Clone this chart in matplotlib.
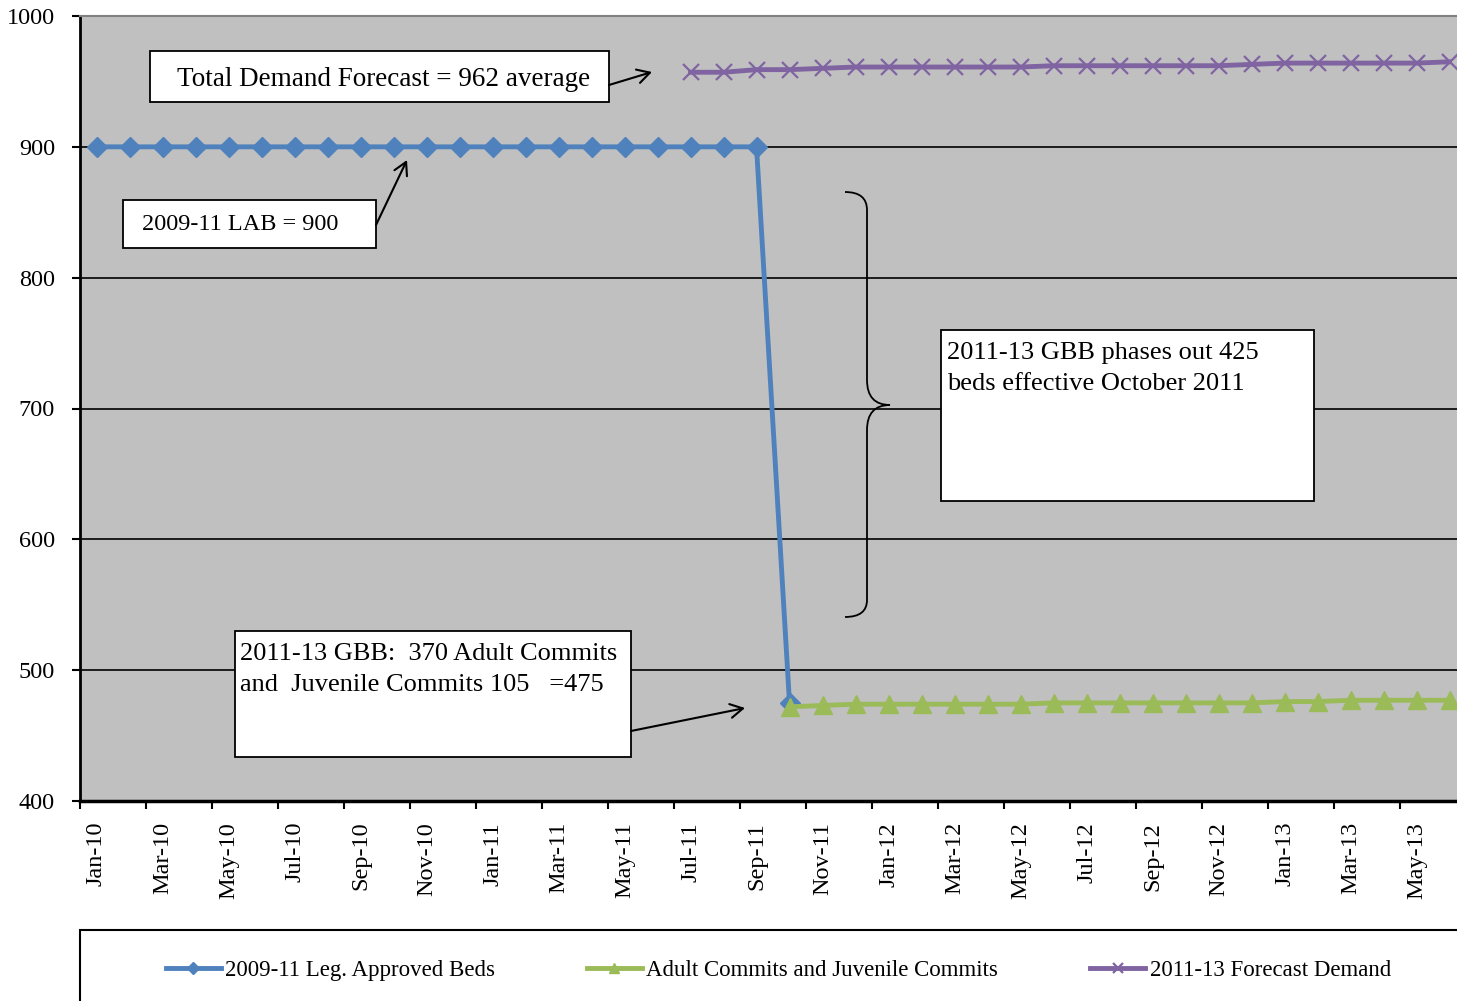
import matplotlib
matplotlib.use("Agg")
import matplotlib.pyplot as plt
from matplotlib.patches import Rectangle, PathPatch, FancyArrowPatch
from matplotlib.path import Path

plt.rcParams['font.family'] = ['Liberation Serif', 'DejaVu Serif']

months = ['Jan-10', 'Feb-10', 'Mar-10', 'Apr-10', 'May-10', 'Jun-10', 'Jul-10', 'Aug-10',
          'Sep-10', 'Oct-10', 'Nov-10', 'Dec-10', 'Jan-11', 'Feb-11', 'Mar-11', 'Apr-11',
          'May-11', 'Jun-11', 'Jul-11', 'Aug-11', 'Sep-11', 'Oct-11', 'Nov-11', 'Dec-11',
          'Jan-12', 'Feb-12', 'Mar-12', 'Apr-12', 'May-12', 'Jun-12', 'Jul-12', 'Aug-12',
          'Sep-12', 'Oct-12', 'Nov-12', 'Dec-12', 'Jan-13', 'Feb-13', 'Mar-13', 'Apr-13',
          'May-13', 'Jun-13']

# 2009-11 Leg. Approved Beds: Jan-10 .. Oct-11
approved = [900] * 21 + [475]
approved_start = 0
# Adult + Juvenile commits: Oct-11 .. Jun-13
commits = [472, 473, 474, 474, 474, 474, 474, 474, 475, 475, 475, 475, 475, 475,
           475, 476, 476, 477, 477, 477, 477]
commits_start = 21
# 2011-13 Forecast demand: Jul-11 .. Jun-13
forecast = [957, 957, 959, 959, 960, 961, 961, 961, 961, 961, 961, 962, 962, 962,
            962, 962, 962, 963, 964, 964, 964, 964, 964, 965]
forecast_start = 18

yticks = [400, 500, 600, 700, 800, 900, 1000]

W, H = 1457, 1001
fig = plt.figure(figsize=(W / 100, H / 100), dpi=100)
fig.patch.set_facecolor('white')

def fx(x):
    return x / W

def fy(y):
    return 1 - y / H

ax = fig.add_axes([fx(80), fy(801), fx(1466) - fx(80), fy(16) - fy(801)])
ax.set_facecolor('#C0C0C0')

blue = '#4F81BD'
green = '#9BBB59'
purple = '#8064A2'

xa = list(range(approved_start, approved_start + len(approved)))
xc = list(range(commits_start, commits_start + len(commits)))
xf = list(range(forecast_start, forecast_start + len(forecast)))

ax.plot(xa, approved, color=blue, lw=3.5, marker='D', ms=10, mfc=blue, mec=blue, zorder=4,
        label='2009-11 Leg. Approved Beds')
ax.plot(xc, commits, color=green, lw=3.5, marker='^', ms=12.5, mfc=green, mec=green, zorder=5,
        label='Adult Commits and Juvenile Commits')
ax.plot(xf, forecast, color=purple, lw=3.5, marker='x', ms=11, mew=1.6, mec=purple, zorder=4,
        label='2011-13 Forecast Demand')

ax.set_xlim(-0.5, len(months) - 0.5)
ax.set_ylim(400, 1000)
ax.set_yticks(yticks)
ax.set_yticklabels([str(v) for v in yticks], fontsize=17.5)
ax.tick_params(axis='y', direction='out', length=6, width=1.5, pad=12, color='black')

ax.set_xticks([i - 0.5 for i in range(0, len(months) + 1, 2)])
ax.set_xticklabels([])
ax.tick_params(axis='x', which='major', direction='out', length=6, width=1.5)
ax.set_xticks(list(range(0, len(months), 2)), minor=True)
ax.set_xticklabels(months[::2], minor=True, rotation=90, fontsize=17.5)
ax.tick_params(axis='x', which='minor', length=0, pad=15)

for v in yticks[1:-1]:
    ax.axhline(v, color='black', lw=1.2, zorder=1)

ax.spines['left'].set_linewidth(2)
ax.spines['bottom'].set_linewidth(2.5)
ax.spines['top'].set_color('#808080')
ax.spines['top'].set_linewidth(1.5)
ax.spines['right'].set_visible(False)

# ---- annotations (figure pixel coords) ----
def box(x0, y0, x1, y1):
    r = Rectangle((fx(x0), fy(y1)), fx(x1) - fx(x0), fy(y0) - fy(y1),
                  transform=fig.transFigure, facecolor='white', edgecolor='black',
                  lw=1.3, zorder=10)
    fig.add_artist(r)

def arrow(x0, y0, x1, y1):
    a = FancyArrowPatch((fx(x0), fy(y0)), (fx(x1), fy(y1)), transform=fig.transFigure,
                        arrowstyle='->,head_length=9,head_width=5', color='black', lw=1.5,
                        zorder=11, shrinkA=0, shrinkB=0)
    fig.add_artist(a)

def text(x, y, s, size=17, va='center', ls=1.2):
    fig.text(fx(x), fy(y), s, fontsize=size, ha='left', va=va, zorder=12,
             linespacing=ls)

box(150, 51, 609, 102)
text(177, 79, 'Total Demand Forecast = 962 average', size=19.5)
arrow(609, 85, 652, 72)

box(123, 200, 376, 248)
text(142, 225, '2009-11 LAB = 900', size=17.5)
arrow(376, 225, 407, 160)

box(941, 330, 1314, 501)
text(947, 342, '2011-13 GBB phases out 425\nbeds effective October 2011', size=19, va='top',
     ls=1.5)

box(235, 631, 631, 757)
text(240, 643, '2011-13 GBB:  370 Adult Commits\nand  Juvenile Commits 105   =475', size=19,
     va='top', ls=1.55)
arrow(631, 731, 745, 708)

# curly brace
def P(x, y):
    return (fx(x), fy(y))

verts = [P(845, 192), P(867, 192), P(867, 210), P(867, 230),
         P(867, 380), P(867, 405), P(890, 405),
         P(867, 405), P(867, 430),
         P(867, 580), P(867, 600), P(867, 617), P(845, 617)]
codes = [Path.MOVETO, Path.CURVE3, Path.CURVE3, Path.LINETO,
         Path.LINETO, Path.CURVE3, Path.CURVE3,
         Path.CURVE3, Path.CURVE3,
         Path.LINETO, Path.LINETO, Path.CURVE3, Path.CURVE3]
brace = PathPatch(Path(verts, codes), transform=fig.transFigure, facecolor='none',
                  edgecolor='black', lw=1.3, zorder=10)
fig.add_artist(brace)

# legend box
lb = Rectangle((fx(80), fy(1010)), 1.0, fy(930) - fy(1010), transform=fig.transFigure,
               facecolor='white', edgecolor='black', lw=1.5, zorder=1)
fig.add_artist(lb)
handles, labels = ax.get_legend_handles_labels()
leg = fig.legend(handles, labels, loc='center left', bbox_to_anchor=(fx(145), fy(970)),
                 ncol=3, frameon=False, fontsize=16.5, handlelength=2.4, handletextpad=0.2,
                 columnspacing=4.0, markerscale=0.6)
leg.set_zorder(20)

fig.savefig('out.png', dpi=100)
